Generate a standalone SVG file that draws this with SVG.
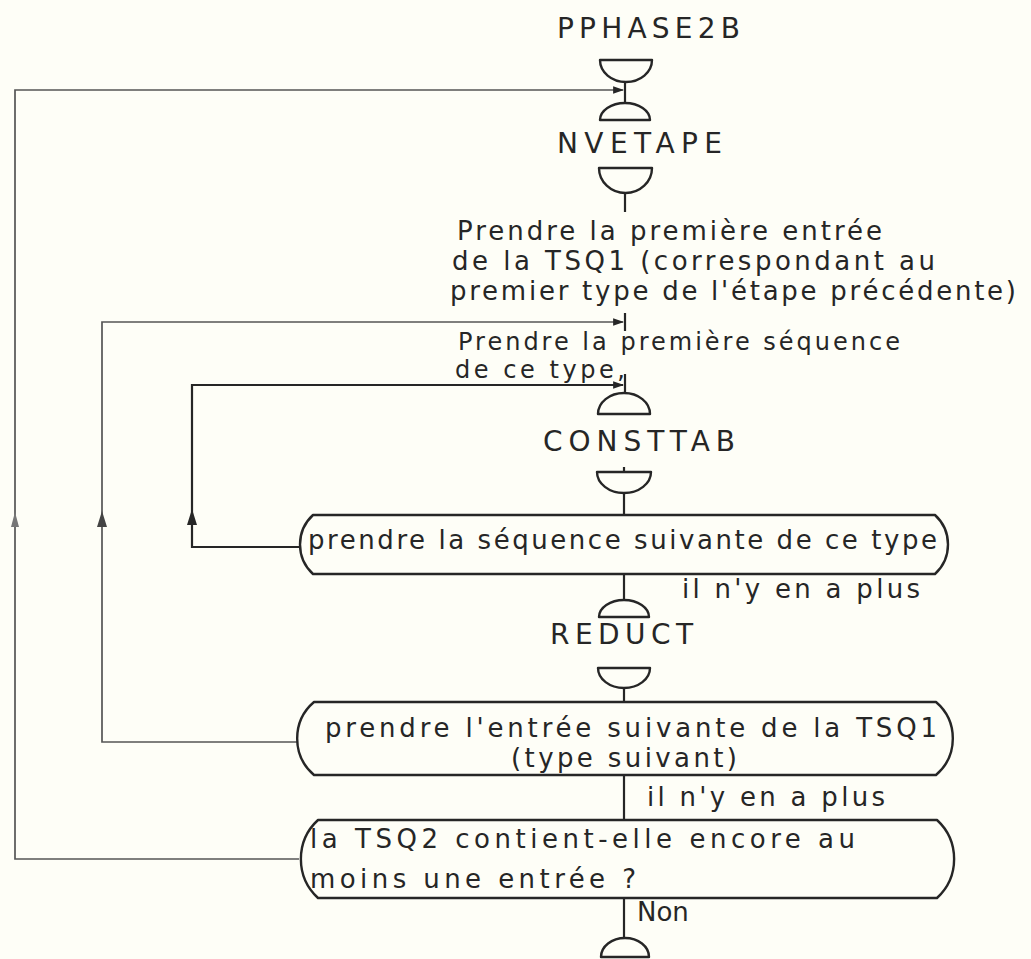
<svg xmlns="http://www.w3.org/2000/svg" width="1031" height="959" viewBox="0 0 1031 959">
<defs>
<style>
.ln{fill:none;stroke:#262626;stroke-width:2.2}
.lt{fill:none;stroke:#555;stroke-width:1.7}
.sh{fill:none;stroke:#262626;stroke-width:2.4;stroke-linejoin:round}
.t{font-family:"DejaVu Sans","Liberation Sans",sans-serif;font-size:26px;fill:#262626}
.ts{font-family:"DejaVu Sans","Liberation Sans",sans-serif;font-size:24px;fill:#262626}
.lb{font-family:"DejaVu Sans","Liberation Sans",sans-serif;font-size:28px;fill:#262626}
</style>
<marker id="ah" viewBox="0 0 10 10" refX="9" refY="5" markerWidth="11" markerHeight="11" markerUnits="userSpaceOnUse" orient="auto">
<path d="M0,1.5 L10,5 L0,8.5 Z" fill="#262626"/>
</marker>
</defs>
<rect width="1031" height="959" fill="#fefef7"/>

<g id="connectors">
<path class="ln" d="M625,82 V103"/>
<path class="ln" d="M625,193 V212"/>
<path class="ln" d="M625,313 V331"/>
<path class="ln" d="M625,374 V393"/>
<path class="ln" d="M624,467 V472"/>
<path class="ln" d="M624,493 V515"/>
<path class="ln" d="M624,574 V600"/>
<path class="ln" d="M624,688 V702"/>
<path class="ln" d="M624,775 V820"/>
<path class="ln" d="M624,898 V938"/>
<path class="lt" d="M299,859 H15 V90 H623" marker-end="url(#ah)"/>
<path class="lt" d="M298,742 H102 V322 H623" marker-end="url(#ah)"/>
<path class="ln" d="M300,547 H192 V385 H623" marker-end="url(#ah)"/>
<path d="M15,512 L11,527 L19,527 Z" fill="#777"/>
<path d="M102,511 L97,527 L107,527 Z" fill="#444"/>
<path d="M192,509 L187,525 L197,525 Z" fill="#262626"/>
</g>

<g id="n-pphase2b">
<text class="lb" x="557" y="38" textLength="183" lengthAdjust="spacing">PPHASE2B</text>
<path class="sh" d="M600,60 H652 A26,22 0 0 1 600,60 Z"/>
</g>

<g id="n-nvetape">
<path class="sh" d="M600,120 A25,17 0 0 1 650,120 Z"/>
<text class="lb" x="557" y="153" textLength="165" lengthAdjust="spacing">NVETAPE</text>
<path class="sh" d="M599,168 H652 A26.5,25 0 0 1 599,168 Z"/>
</g>

<g id="n-first-entry">
<text class="t" x="457" y="240" textLength="425" lengthAdjust="spacing">Prendre la première entrée</text>
<text class="t" x="452" y="270" textLength="483" lengthAdjust="spacing">de la TSQ1 (correspondant au</text>
<text class="t" x="450" y="300" textLength="566" lengthAdjust="spacing">premier type de l'étape précédente)</text>
</g>

<g id="n-first-seq">
<text class="ts" x="458" y="350" textLength="442" lengthAdjust="spacing">Prendre la première séquence</text>
<text class="ts" x="455" y="378" textLength="170" lengthAdjust="spacing">de ce type,</text>
</g>

<g id="n-consttab">
<path class="sh" d="M598,414 A26,21 0 0 1 650,414 Z"/>
<text class="lb" x="543" y="451" textLength="192" lengthAdjust="spacing">CONSTTAB</text>
<path class="sh" d="M597,472 H651 A27,21 0 0 1 597,472 Z"/>
</g>

<g id="n-next-seq">
<path class="sh" d="M313,515 H935 A40,40 0 0 1 935,574 H313 A40,40 0 0 1 313,515 Z"/>
<text class="t" x="308" y="549" textLength="629" lengthAdjust="spacing">prendre la séquence suivante de ce type</text>
</g>

<g id="l-plus1">
<text class="t" x="682" y="598" textLength="238" lengthAdjust="spacing">il n'y en a plus</text>
</g>

<g id="n-reduct">
<path class="sh" d="M599,617 A25,17 0 0 1 649,617 Z"/>
<text class="lb" x="550" y="644" textLength="143" lengthAdjust="spacing">REDUCT</text>
<path class="sh" d="M598,668 H650 A26,20 0 0 1 598,668 Z"/>
</g>

<g id="n-next-entry">
<path class="sh" d="M314,702 H936 A48,48 0 0 1 936,775 H314 A48,48 0 0 1 314,702 Z"/>
<text class="t" x="325" y="737" textLength="612" lengthAdjust="spacing">prendre l'entrée suivante de la TSQ1</text>
<text class="t" x="511" y="767" textLength="226" lengthAdjust="spacing">(type suivant)</text>
</g>

<g id="l-plus2">
<text class="t" x="647" y="806" textLength="238" lengthAdjust="spacing">il n'y en a plus</text>
</g>

<g id="n-tsq2">
<path class="sh" d="M318,820 H937 A53,53 0 0 1 937,898 H318 A53,53 0 0 1 318,820 Z"/>
<text class="t" x="310" y="848" textLength="545" lengthAdjust="spacing">la TSQ2 contient-elle encore au</text>
<text class="t" x="310" y="888" textLength="326" lengthAdjust="spacing">moins une entrée ?</text>
</g>

<g id="l-non">
<text class="t" x="637" y="921">Non</text>
</g>

<g id="n-end">
<path class="sh" d="M601,957 A24,19 0 0 1 649,957 Z"/>
</g>
</svg>
